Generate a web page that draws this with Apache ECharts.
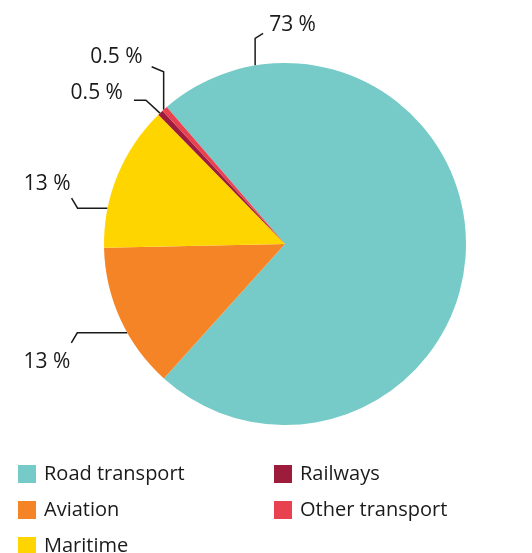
<!DOCTYPE html>
<html>
<head>
<meta charset="utf-8">
<script src="https://cdn.jsdelivr.net/npm/echarts@6/dist/echarts.min.js"></script>
<style>html,body{margin:0;padding:0;background:#fff}</style>
</head>
<body>
<div id="myChart" style="width:532px;height:553px"></div>
<script>
// data
var categories = ["Road transport", "Aviation", "Maritime", "Railways", "Other transport"];
var shares = [73, 13, 13, 0.5, 0.5];
var shareLabels = ["73 %", "13 %", "13 %", "0.5 %", "0.5 %"];
var colors = ["#76cbc8", "#f58426", "#ffd500", "#9e1c3b", "#e84150"];

// pie geometry
var cx = 285, cy = 244, r = 181;

// label leader lines: angle on the rim, elbow, end, text offset (relative to rim point)
var leaders = [
  { angle: 99.5, elbow: [0, -27], end: [8, -32], text: [14, -40], align: "left" },
  { angle: 209.4, elbow: [-50, 0], end: [-56, 10], text: [-57, 29], align: "right" },
  { angle: 168.6, elbow: [-30, 0], end: [-36, -10], text: [-37, -24], align: "right" },
  { angle: 133.7, elbow: [-14, -13], end: [-26, -13], text: [-37, -20], align: "right" },
  { angle: 132.1, elbow: [0, -38], end: [-12, -43], text: [-21, -53], align: "right" }
];

// legend slots (two columns)
var legendSlots = [[13, 459], [13, 495], [13, 531], [269, 459], [269, 495]];

var myChart = echarts.init(document.getElementById("myChart"));

var pieData = categories.map(function (name, i) {
  return { name: name, value: shares[i], itemStyle: { color: colors[i] } };
});

var legends = categories.map(function (name, i) {
  return {
    data: [name],
    left: legendSlots[i][0],
    top: legendSlots[i][1],
    icon: "rect",
    itemWidth: 18,
    itemHeight: 18,
    selectedMode: false,
    textStyle: { fontFamily: "Open Sans", fontSize: 20, color: "#1a1a1a", padding: [0, 0, 0, 3] }
  };
});

myChart.setOption({
  animation: false,
  textStyle: { fontFamily: "Open Sans" },
  legend: legends,
  series: [
    {
      type: "pie",
      center: [cx, cy],
      radius: [0, r],
      startAngle: 130.8,
      clockwise: true,
      data: pieData,
      itemStyle: { borderWidth: 0 },
      label: {
        show: true,
        position: "outside",
        alignTo: "none",
        overflow: "none",
        formatter: function (p) { return shareLabels[p.dataIndex]; },
        fontFamily: "Open Sans",
        fontSize: 21,
        color: "#1a1a1a"
      },
      labelLine: {
        show: true,
        length: 10,
        length2: 10,
        lineStyle: { color: "#1a1a1a", width: 1.5 }
      },
      labelLayout: function (params) {
        var l = leaders[params.dataIndex];
        var a = l.angle * Math.PI / 180;
        var ex = cx + r * Math.cos(a);
        var ey = cy - r * Math.sin(a);
        return {
          x: ex + l.text[0],
          y: ey + l.text[1],
          align: l.align,
          verticalAlign: "middle",
          labelLinePoints: [
            [ex, ey],
            [ex + l.elbow[0], ey + l.elbow[1]],
            [ex + l.end[0], ey + l.end[1]]
          ]
        };
      }
    }
  ]
});
</script>
</body>
</html>
